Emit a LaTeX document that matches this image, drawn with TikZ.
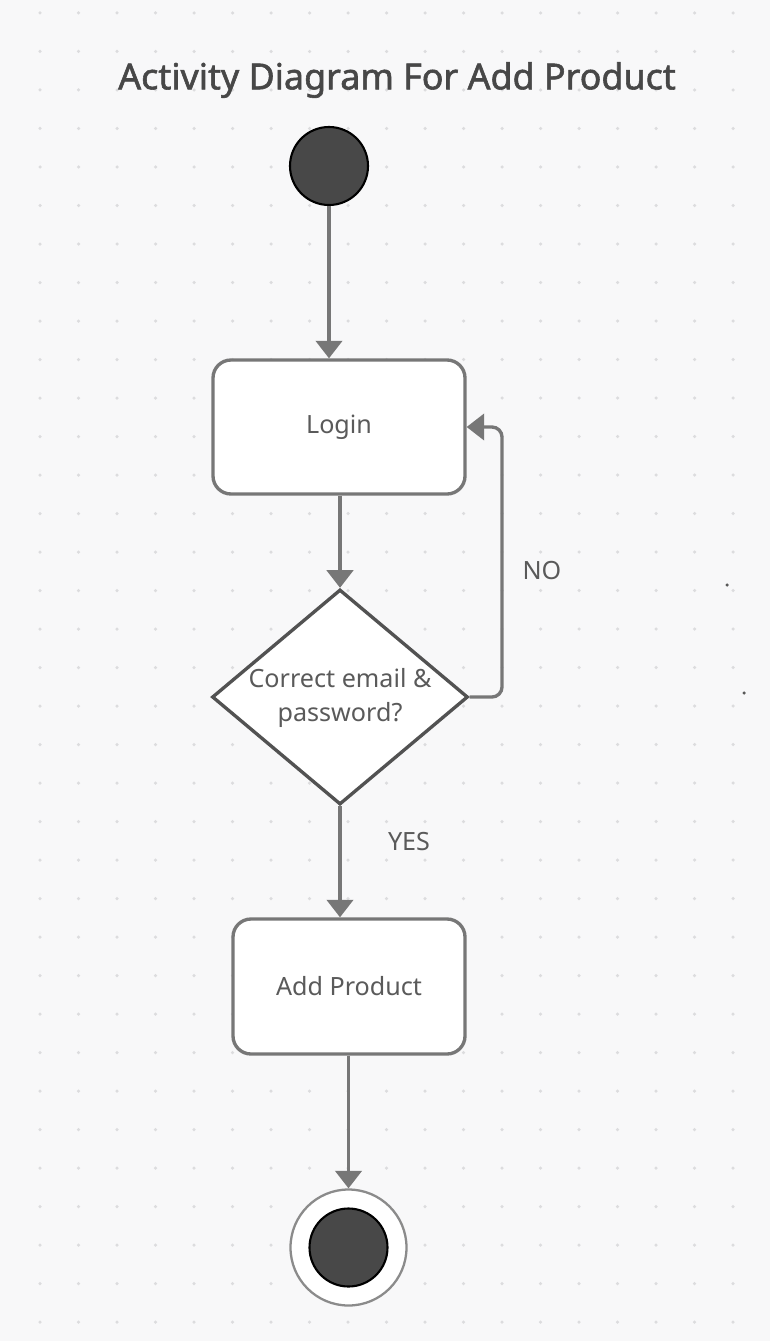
\documentclass[tikz,border=0pt]{standalone}
\usepackage{fontspec}
\setmainfont{Noto Sans}
\newfontfamily\titlefont[FakeBold=1.6]{Noto Sans}
\usepackage{xcolor}
\usepackage{tikz}
\usetikzlibrary{shapes,arrows.meta}
\definecolor{edgegray}{HTML}{777777}
\definecolor{textgray}{HTML}{5A5A5A}
\definecolor{titlegray}{HTML}{474747}
\definecolor{darkfill}{HTML}{484848}
\definecolor{paper}{HTML}{F8F8F9}
\definecolor{griddot}{HTML}{DCDCDE}
\tikzstyle{activity} = [rectangle, rounded corners=0.36cm, draw=edgegray, line width=1.9pt, fill=white, text=textgray, font=\fontsize{14.3}{17}\selectfont]
\tikzstyle{decision} = [diamond, aspect=1.19, inner sep=0pt, draw=black!68, line width=1.9pt, fill=white, text=textgray, align=center, minimum width=5cm, minimum height=4.2cm, font=\fontsize{14.3}{19.5}\selectfont]
\tikzstyle{initial} = [circle, draw=black, line width=1.2pt, fill=darkfill, minimum size=1.56cm, inner sep=0pt]
\tikzstyle{final} = [circle, draw=edgegray!85, line width=1.3pt, fill=white, minimum size=2.32cm, inner sep=0pt]
\tikzstyle{guard} = [text=textgray, font=\fontsize{14.3}{17}\selectfont]
\tikzstyle{line} = [draw=edgegray, line width=1.9pt, -{Triangle[width=15pt,length=10pt]}]

\begin{document}
\begin{tikzpicture}
\fill [paper] (0,0) rectangle (15.4,-26.82);
\useasboundingbox (0,0) rectangle (15.4,-26.82);
\foreach \i in {0,...,18}
  \foreach \j in {0,...,34}
    \fill [griddot] ({0.8+0.77*\i},{-0.26-0.77*\j}) circle (0.035);
\fill [black!65] (14.54,-11.70) circle (0.035);
\fill [black!65] (14.88,-13.86) circle (0.035);

\node [text=titlegray, font=\titlefont\fontsize{20.4}{25}\selectfont] (title) at (7.94,-1.60) {Activity Diagram For Add Product};
\node [initial] (start) at (6.58,-3.32) {};
\node [activity, minimum width=5.04cm, minimum height=2.68cm] (login) at (6.78,-8.54) {Login};
\path [line] (start) -- (start |- login.north);
\node [decision] (check) at (6.80,-13.94) {\rule{0pt}{12pt}Correct email \&\\password?};
\path [line] (login.south -| check.north) -- (check.north);
\coordinate (loop-turn) at (10.04,-8.54);
\path [line, rounded corners=0.2cm] (check.east) -| (loop-turn) -- (login.east);
\node [guard] (no-label) at (10.84,-11.42) {NO};
\node [activity, minimum width=4.64cm, minimum height=2.70cm] (add-product) at (6.98,-19.73) {Add Product};
\path [line] (check.south) -- (check.south |- add-product.north);
\node [guard] (yes-label) at (8.18,-16.84) {YES};
\node [final] (end) at (6.97,-24.95) {};
\node [initial] (end-dot) at (6.97,-24.95) {};
\path [line] (add-product.south -| end.north) -- (end.north);
\end{tikzpicture}
\end{document}
